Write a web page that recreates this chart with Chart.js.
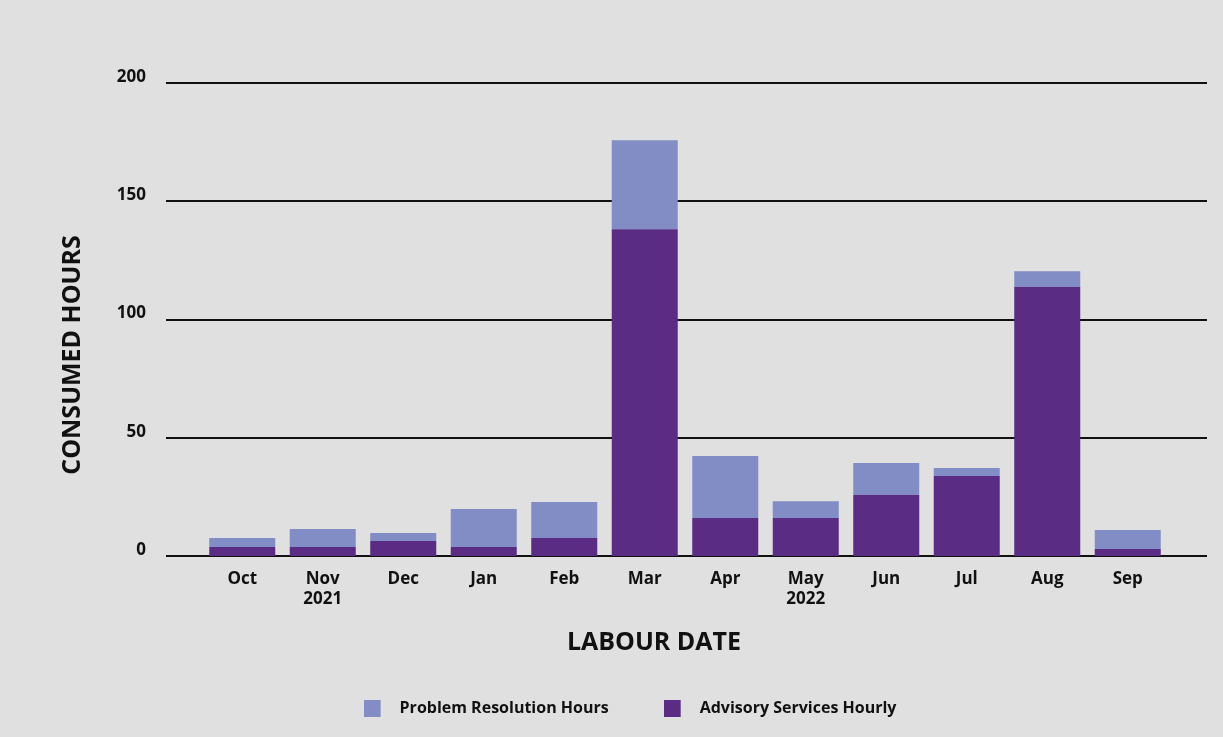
<!DOCTYPE html>
<html>
<head>
<meta charset="utf-8">
<script src="https://cdn.jsdelivr.net/npm/chart.js@4.4.1/dist/chart.umd.min.js"></script>
<style>
  html, body { margin: 0; padding: 0; background: #e0e0e0; }
  #wrap { width: 1223px; height: 737px; }
</style>
</head>
<body>
<div id="wrap"><canvas id="hoursChart"></canvas></div>
<script>
var months = ['Oct', ['Nov', '2021'], 'Dec', 'Jan', 'Feb', 'Mar', 'Apr', ['May', '2022'], 'Jun', 'Jul', 'Aug', 'Sep'];
var advisoryHours = [3.8, 3.8, 6.3, 3.8, 7.6, 138.2, 16.1, 16.1, 25.8, 33.8, 113.7, 3.0];
var problemHours = [3.8, 7.6, 3.4, 16.1, 15.2, 37.6, 26.2, 7.1, 13.5, 3.4, 6.7, 8.0];
var yTicks = [0, 50, 100, 150, 200];

var FONT = "'Open Sans', sans-serif";
Chart.defaults.font.family = FONT;
Chart.defaults.font.weight = 'bold';
Chart.defaults.color = '#111';

// legend swatch: a square with empty room on its right, so the text sits further away
function swatch(color) {
    var c = document.createElement('canvas');
    c.width = 28;
    c.height = 17;
    var g = c.getContext('2d');
    g.fillStyle = color;
    g.fillRect(0, 0, 17, 17);
    return c;
}

// horizontal lines run a bit past the bars on both sides
var wideGrid = {
    id: 'wideGrid',
    beforeDatasetsDraw: function(chart) {
        var ctx = chart.ctx, y = chart.scales.y, area = chart.chartArea;
        ctx.save();
        ctx.strokeStyle = '#111';
        ctx.lineWidth = 2;
        y.ticks.forEach(function(t) {
            var py = Math.round(y.getPixelForValue(t.value));
            ctx.beginPath();
            ctx.moveTo(area.left - 36, py);
            ctx.lineTo(area.right + 39, py);
            ctx.stroke();
        });
        ctx.restore();
    }
};

var axisTitles = {
    id: 'axisTitles',
    afterDraw: function(chart) {
        var ctx = chart.ctx;
        ctx.save();
        ctx.fillStyle = '#111';
        ctx.font = 'bold 25px ' + FONT;
        ctx.textAlign = 'center';
        ctx.textBaseline = 'middle';
        ctx.fillText('LABOUR DATE', 654, 643);
        ctx.translate(73, 355);
        ctx.rotate(-Math.PI / 2);
        ctx.fillText('CONSUMED HOURS', 0, 0);
        ctx.restore();
    }
};

new Chart(document.getElementById('hoursChart'), {
    type: 'bar',
    data: {
        labels: months,
        datasets: [{
            label: 'Advisory Services Hourly',
            data: advisoryHours,
            backgroundColor: '#5b2c83'
        }, {
            label: 'Problem Resolution Hours',
            data: problemHours,
            backgroundColor: '#818dc4'
        }]
    },
    options: {
        responsive: true,
        maintainAspectRatio: false,
        animation: false,
        layout: { padding: { top: 83, left: 92, right: 55, bottom: 11 } },
        datasets: { bar: { categoryPercentage: 1, barPercentage: 0.82 } },
        plugins: {
            tooltip: { enabled: false },
            legend: {
                position: 'bottom',
                reverse: true,
                labels: {
                    usePointStyle: true,
                    pointStyleWidth: 28,
                    boxHeight: 17,
                    padding: 55,
                    font: { size: 16, weight: 'bold' },
                    generateLabels: function(chart) {
                        var items = Chart.defaults.plugins.legend.labels.generateLabels(chart);
                        items.forEach(function(it) {
                            it.pointStyle = swatch(it.fillStyle);
                        });
                        return items;
                    }
                }
            }
        },
        scales: {
            x: {
                stacked: true,
                grid: { display: false, drawTicks: false },
                border: { display: false },
                ticks: { padding: 13, font: { size: 17 } },
                afterFit: function(s) { s.height = 89; }
            },
            y: {
                stacked: true,
                min: yTicks[0],
                max: yTicks[yTicks.length - 1],
                grid: { display: false, drawTicks: false },
                border: { display: false },
                ticks: { stepSize: 50, padding: 56, labelOffset: -6, font: { size: 17 } },
                afterFit: function(s) { s.width = 110; }
            }
        }
    },
    plugins: [wideGrid, axisTitles]
});
</script>
</body>
</html>
